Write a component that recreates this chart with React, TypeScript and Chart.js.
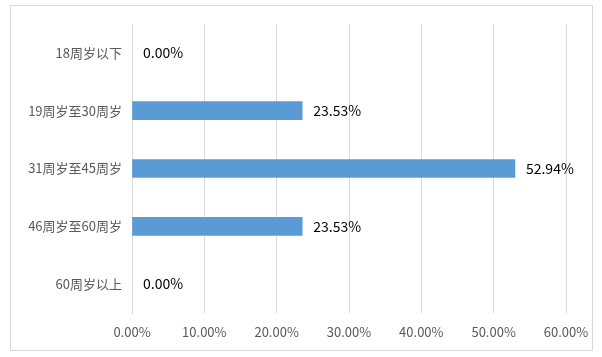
import React, { useEffect, useRef } from "react";
import { Chart, registerables } from "chart.js";

Chart.register(...registerables);

const categories = ["18周岁以下", "19周岁至30周岁", "31周岁至45周岁", "46周岁至60周岁", "60周岁以上"];
const values = [0, 23.53, 52.94, 23.53, 0];
const xTicks = [0, 10, 20, 30, 40, 50, 60];

const FONT = "'Noto Sans CJK SC', 'Liberation Sans', sans-serif";

const framePlugin = {
  id: "frame",
  beforeDraw(chart: any) {
    const { ctx } = chart;
    ctx.save();
    ctx.fillStyle = "#ffffff";
    ctx.fillRect(0, 0, chart.width, chart.height);
    ctx.strokeStyle = "#d9d9d9";
    ctx.lineWidth = 1;
    ctx.strokeRect(10.5, 5.5, 582, 345);
    ctx.restore();
  },
};

const labelPlugin = {
  id: "barLabels",
  afterDatasetsDraw(chart: any) {
    const { ctx } = chart;
    const meta = chart.getDatasetMeta(0);
    ctx.save();
    ctx.font = `14px ${FONT}`;
    ctx.fillStyle = "#000000";
    ctx.textAlign = "left";
    ctx.textBaseline = "middle";
    meta.data.forEach((el: any, i: number) => {
      const v = chart.data.datasets[0].data[i] as number;
      ctx.fillText(v.toFixed(2) + "%", el.x + 11, el.y);
    });
    ctx.restore();
  },
};

export default function App() {
  const ref = useRef<HTMLCanvasElement | null>(null);
  useEffect(() => {
    if (!ref.current) return;
    const chart = new Chart(ref.current, {
      type: "bar",
      data: {
        labels: categories,
        datasets: [
          {
            data: values,
            backgroundColor: values.map((v) => (v === 0 ? "rgba(0,0,0,0)" : "#5b9bd5")),
            barThickness: 18,
          },
        ],
      },
      options: {
        indexAxis: "y",
        responsive: false,
        animation: false,
        devicePixelRatio: 1,
        layout: { padding: { top: 24, right: 36, left: 0, bottom: 0 } },
        plugins: { legend: { display: false }, tooltip: { enabled: false } },
        scales: {
          x: {
            min: 0,
            max: 60,
            afterBuildTicks(scale: any) {
              scale.ticks = xTicks.map((v) => ({ value: v }));
            },
            afterFit(scale: any) {
              scale.height = 44;
            },
            grid: { color: "#d9d9d9", drawTicks: false },
            border: { display: false },
            ticks: {
              color: "#595959",
              font: { family: FONT, size: 13 },
              padding: 11,
              maxRotation: 0,
              callback: (v: any) => Number(v).toFixed(2) + "%",
            },
          },
          y: {
            afterFit(scale: any) {
              scale.width = 132;
            },
            grid: { display: false, drawTicks: false },
            border: { display: true, color: "#d9d9d9" },
            ticks: {
              color: "#595959",
              font: { family: FONT, size: 13 },
              padding: 10,
            },
          },
        },
      },
      plugins: [framePlugin, labelPlugin],
    });
    return () => chart.destroy();
  }, []);
  return (
    <div style={{ position: "fixed", left: 0, top: 0, width: 602, height: 357 }}>
      <canvas ref={ref} width={602} height={357} style={{ display: "block" }} />
    </div>
  );
}
